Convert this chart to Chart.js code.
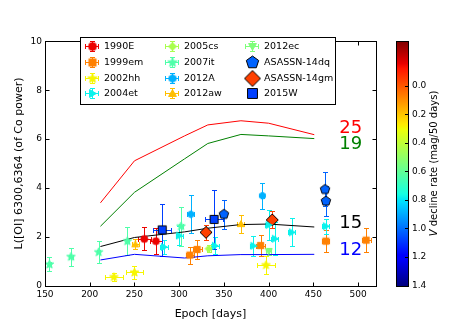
<!DOCTYPE html>
<html>
<head>
<meta charset="utf-8">
<script src="https://cdn.jsdelivr.net/npm/chart.js@4.4.1/dist/chart.umd.min.js"></script>
<style>
  html, body { margin: 0; padding: 0; background: #fff; }
  canvas { display: block; }
</style>
</head>
<body>
<canvas id="oiChart" width="458" height="327"></canvas>
<script>
// axis ticks
const xTicks = [150, 200, 250, 300, 350, 400, 450, 500];
const yTicks = [0, 2, 4, 6, 8, 10];
const cbTicks = [0.0, 0.2, 0.4, 0.6, 0.8, 1.0, 1.2, 1.4];
const cbMin = -0.31;
const cbMax = 1.4;

// model tracks (progenitor mass in Msun)
const modelEpochs = [212, 250, 306, 332, 369, 400, 451];
const model12 = [1.05, 1.28, 1.13, 1.22, 1.27, 1.27, 1.28];
const model15 = [1.60, 1.97, 2.20, 2.35, 2.50, 2.52, 2.40];
const model19 = [2.43, 3.82, 5.19, 5.82, 6.19, 6.13, 6.02];
const model25 = [3.39, 5.11, 6.13, 6.58, 6.75, 6.65, 6.18];
const modelMasses = ["12", "15", "19", "25"];

// observed SNe, rows of [epoch, L, epoch error, L error]
const sn1990E = [[261, 1.91, 7, 0.47], [274, 1.82, 7, 0.53]];
const sn1999em = [[312, 1.25, 4, 0.35], [320, 1.48, 5, 0.40], [391, 1.64, 5, 0.43], [464, 1.82, 4, 0.45], [509, 1.86, 5, 0.50]];
const sn2002hh = [[227, 0.35, 10, 0.18], [250, 0.54, 10, 0.27], [397, 0.84, 10, 0.38]];
const sn2004et = [[283, 1.58, 4, 0.30], [300, 2.05, 4, 0.40], [340, 1.63, 4, 0.35], [383, 1.63, 4, 0.40], [400, 2.48, 4, 0.62], [407, 1.92, 4, 0.67], [426, 2.18, 4, 0.57], [464, 2.43, 4, 0.30]];
const sn2005cs = [[333, 1.51, 2, 0.15]];
const sn2007it = [[155, 0.87, 2, 0.29], [179, 1.18, 2, 0.38], [210, 1.37, 2, 0.44], [242, 1.82, 2, 0.58], [302, 2.43, 2, 0.80]];
const sn2012A = [[313, 2.92, 4, 0.78], [393, 3.68, 2, 0.54]];
const sn2012aw = [[251, 1.69, 4, 0.20], [369, 2.52, 4, 0.38]];
const sn2012ec = [[400, 1.41, 3, 0.15]];
const snASASSN14dq = [[350, 2.92, 0, 0.60], [463, 3.94, 0, 0.70], [464, 3.46, 0, 0.60]];
const snASASSN14gm = [[330, 2.18, 0, 0.30], [404, 2.69, 0, 0.35]];
const sn2015W = [[281, 2.28, 10, 1.05], [339, 2.71, 10, 1.20]];

const snNames = ["1990E", "1999em", "2002hh", "2004et", "2005cs", "2007it", "2012A", "2012aw", "2012ec", "ASASSN-14dq", "ASASSN-14gm", "2015W"];
const snData = [sn1990E, sn1999em, sn2002hh, sn2004et, sn2005cs, sn2007it, sn2012A, sn2012aw, sn2012ec, snASASSN14dq, snASASSN14gm, sn2015W];
// V-band decline rate (mag / 50 days), sets the colour
const snDecline = [-0.15, 0.075, 0.29, 0.78, 0.45, 0.64, 0.89, 0.19, 0.54, 1.02, -0.04, 1.08];

// styles
const FONT = "'DejaVu Sans', sans-serif";
const snShapes = ["circle", "square", "star", "triRight", "diamond", "star", "hexagon", "triUp", "triDown", "pentagon", "diamond", "square"];
const snSizes = [7, 7, 9, 8, 7, 9, 7, 8, 8, 10, 12, 9];
const legendSizes = [8, 8, 10, 9, 8, 10, 8, 9, 9, 13, 16, 11];
const modelColors = ["#0000ff", "#000000", "#008000", "#ff0000"];
const modelLabelLum = [1.44, 2.55, 5.80, 6.45];
const modelLabelEpoch = 479;

const jetR = [[0, 0], [0.35, 0], [0.66, 1], [0.89, 1], [1, 0.5]];
const jetG = [[0, 0], [0.125, 0], [0.375, 1], [0.64, 1], [0.91, 0], [1, 0]];
const jetB = [[0, 0.5], [0.11, 1], [0.34, 1], [0.65, 0], [1, 0]];

function interp(pts, t) {
  t = Math.min(1, Math.max(0, t));
  for (let i = 1; i < pts.length; i++) {
    if (t <= pts[i][0]) {
      const [x0, y0] = pts[i - 1];
      const [x1, y1] = pts[i];
      return y0 + (y1 - y0) * (t - x0) / (x1 - x0);
    }
  }
  return pts[pts.length - 1][1];
}

function rateColor(v) {
  const t = (cbMax - v) / (cbMax - cbMin);
  const c = (p) => Math.round(255 * interp(p, t));
  return `rgb(${c(jetR)}, ${c(jetG)}, ${c(jetB)})`;
}

function tracePolygon(ctx, cx, cy, r, n, rot) {
  for (let k = 0; k < n; k++) {
    const a = rot + k * 2 * Math.PI / n;
    const px = cx + r * Math.cos(a);
    const py = cy + r * Math.sin(a);
    if (k === 0) ctx.moveTo(px, py); else ctx.lineTo(px, py);
  }
  ctx.closePath();
}

function makeMarker(shape, size, fill, edge) {
  const c = document.createElement("canvas");
  c.width = c.height = Math.ceil(size) + 4;
  const ctx = c.getContext("2d");
  const cx = c.width / 2;
  const cy = c.height / 2;
  const r = size / 2;
  ctx.beginPath();
  if (shape === "circle") ctx.arc(cx, cy, r, 0, Math.PI * 2);
  else if (shape === "square") ctx.rect(cx - r * 0.9, cy - r * 0.9, r * 1.8, r * 1.8);
  else if (shape === "diamond") tracePolygon(ctx, cx, cy, r, 4, -Math.PI / 2);
  else if (shape === "pentagon") tracePolygon(ctx, cx, cy, r, 5, -Math.PI / 2);
  else if (shape === "hexagon") tracePolygon(ctx, cx, cy, r, 6, -Math.PI / 2);
  else if (shape === "triUp") tracePolygon(ctx, cx, cy + r * 0.15, r, 3, -Math.PI / 2);
  else if (shape === "triDown") tracePolygon(ctx, cx, cy - r * 0.15, r, 3, Math.PI / 2);
  else if (shape === "triRight") tracePolygon(ctx, cx - r * 0.15, cy, r, 3, 0);
  else if (shape === "star") {
    for (let k = 0; k < 10; k++) {
      const a = -Math.PI / 2 + k * Math.PI / 5;
      const rr = k % 2 === 0 ? r : r * 0.42;
      const px = cx + rr * Math.cos(a);
      const py = cy + rr * Math.sin(a);
      if (k === 0) ctx.moveTo(px, py); else ctx.lineTo(px, py);
    }
    ctx.closePath();
  }
  ctx.fillStyle = fill;
  ctx.fill();
  ctx.lineWidth = 1;
  ctx.strokeStyle = edge;
  ctx.stroke();
  return c;
}

const snColors = snDecline.map(rateColor);
const snEdgeColors = snColors.map((c, i) => (i >= 9 ? "#000000" : c));
const plotMarkers = snShapes.map((s, i) => makeMarker(s, snSizes[i], snColors[i], snEdgeColors[i]));
const legendMarkers = snShapes.map((s, i) => makeMarker(s, legendSizes[i], snColors[i], snEdgeColors[i]));

function line(ctx, x0, y0, x1, y1) {
  ctx.beginPath();
  ctx.moveTo(x0, y0);
  ctx.lineTo(x1, y1);
  ctx.stroke();
}

const snap = (v) => Math.round(v) + 0.5;

const errorBarPlugin = {
  id: "errorBars",
  beforeDatasetsDraw(chart) {
    const { ctx, chartArea, scales: { x, y } } = chart;
    const cap = 2.5;
    ctx.save();
    ctx.beginPath();
    ctx.rect(chartArea.left, chartArea.top, chartArea.right - chartArea.left, chartArea.bottom - chartArea.top);
    ctx.clip();
    ctx.lineWidth = 1;
    snData.forEach((rows, i) => {
      ctx.strokeStyle = snColors[i];
      rows.forEach(([ex, ey, dx, dy]) => {
        const px = snap(x.getPixelForValue(ex));
        const py = snap(y.getPixelForValue(ey));
        if (dy) {
          const y0 = snap(y.getPixelForValue(ey - dy));
          const y1 = snap(y.getPixelForValue(ey + dy));
          line(ctx, px, y0, px, y1);
          line(ctx, px - cap, y0, px + cap, y0);
          line(ctx, px - cap, y1, px + cap, y1);
        }
        if (dx) {
          const x0 = snap(x.getPixelForValue(ex - dx));
          const x1 = snap(x.getPixelForValue(ex + dx));
          line(ctx, x0, py, x1, py);
          line(ctx, x0, py - cap, x0, py + cap);
          line(ctx, x1, py - cap, x1, py + cap);
        }
      });
    });
    ctx.restore();
  }
};

const framePlugin = {
  id: "frame",
  afterDatasetsDraw(chart) {
    const { ctx, chartArea, scales: { x, y } } = chart;
    const left = snap(chartArea.left);
    const right = snap(chartArea.right);
    const top = snap(chartArea.top);
    const bottom = snap(chartArea.bottom);
    ctx.save();
    ctx.strokeStyle = "#000";
    ctx.lineWidth = 1;
    ctx.strokeRect(left, top, right - left, bottom - top);
    xTicks.forEach((v) => {
      const px = snap(x.getPixelForValue(v));
      line(ctx, px, bottom, px, bottom - 4);
      line(ctx, px, top, px, top + 4);
    });
    yTicks.forEach((v) => {
      const py = snap(y.getPixelForValue(v));
      line(ctx, left, py, left + 4, py);
      line(ctx, right, py, right - 4, py);
    });

    // model mass labels
    ctx.font = `18px ${FONT}`;
    ctx.textAlign = "left";
    ctx.textBaseline = "middle";
    modelMasses.forEach((m, i) => {
      ctx.fillStyle = modelColors[i];
      ctx.fillText(m, x.getPixelForValue(modelLabelEpoch), y.getPixelForValue(modelLabelLum[i]));
    });

    // axis titles
    ctx.fillStyle = "#000";
    ctx.font = `11px ${FONT}`;
    ctx.textAlign = "center";
    ctx.fillText("Epoch [days]", (chartArea.left + chartArea.right) / 2, 314);
    ctx.translate(19, (chartArea.top + chartArea.bottom) / 2);
    ctx.rotate(-Math.PI / 2);
    ctx.fillText("L([OI] 6300,6364 (of Co power)", 0, 0);
    ctx.restore();
  }
};

const legendPlugin = {
  id: "innerLegend",
  afterDraw(chart) {
    const { ctx } = chart;
    const markerX = [92, 172, 252];
    const textX = [104, 184, 264];
    const rowY = [46, 62, 78, 93];
    ctx.save();
    ctx.fillStyle = "#fff";
    ctx.strokeStyle = "#000";
    ctx.lineWidth = 1;
    ctx.fillRect(80.5, 37.5, 255, 67);
    ctx.strokeRect(80.5, 37.5, 255, 67);
    ctx.font = `9.5px ${FONT}`;
    ctx.textBaseline = "middle";
    ctx.textAlign = "left";
    snNames.forEach((name, i) => {
      const col = Math.floor(i / 4);
      const mx = markerX[col];
      const my = rowY[i % 4];
      if (i < 9) {
        ctx.strokeStyle = snColors[i];
        line(ctx, mx - 7, my + 0.5, mx + 7, my + 0.5);
        line(ctx, mx - 6.5, my - 2, mx - 6.5, my + 3);
        line(ctx, mx + 6.5, my - 2, mx + 6.5, my + 3);
        line(ctx, mx + 0.5, my - 4.5, mx + 0.5, my + 5.5);
        line(ctx, mx - 2, my - 4.5, mx + 3, my - 4.5);
        line(ctx, mx - 2, my + 5.5, mx + 3, my + 5.5);
      }
      const img = legendMarkers[i];
      ctx.drawImage(img, mx + 0.5 - img.width / 2, my + 0.5 - img.height / 2);
      ctx.fillStyle = "#000";
      ctx.fillText(name, textX[col], my + 1);
    });
    ctx.restore();
  }
};

const colorbarPlugin = {
  id: "colorbar",
  afterDraw(chart) {
    const { ctx } = chart;
    const cb = chart.scales.cb;
    const x0 = 396;
    const x1 = 409;
    ctx.save();
    for (let py = Math.round(cb.top); py < Math.round(cb.bottom); py++) {
      ctx.fillStyle = rateColor(cb.getValueForPixel(py + 0.5));
      ctx.fillRect(x0, py, x1 - x0, 1);
    }
    ctx.strokeStyle = "#000";
    ctx.lineWidth = 1;
    ctx.strokeRect(x0 + 0.5, snap(cb.top), x1 - x0 - 1, Math.round(cb.bottom) - Math.round(cb.top));
    cbTicks.forEach((v) => {
      const py = snap(cb.getPixelForValue(v));
      line(ctx, x1 - 0.5, py, x1 - 4, py);
    });
    ctx.fillStyle = "#000";
    ctx.font = `10px ${FONT}`;
    ctx.textBaseline = "middle";
    ctx.translate(434, (cb.top + cb.bottom) / 2);
    ctx.rotate(-Math.PI / 2);
    const rest = " decline rate (mag/50 days)";
    ctx.font = `italic 10px ${FONT}`;
    const wV = ctx.measureText("V").width;
    ctx.font = `10px ${FONT}`;
    const wRest = ctx.measureText(rest).width;
    const start = -(wV + wRest) / 2;
    ctx.textAlign = "left";
    ctx.font = `italic 10px ${FONT}`;
    ctx.fillText("V", start, 0);
    ctx.font = `10px ${FONT}`;
    ctx.fillText(rest, start + wV, 0);
    ctx.restore();
  }
};

const tickFont = { family: FONT, size: 9 };

const modelDatasets = [model12, model15, model19, model25].map((vals, i) => ({
  label: `${modelMasses[i]} Msun`,
  type: "line",
  data: modelEpochs.map((e, k) => ({ x: e, y: vals[k] })),
  borderColor: modelColors[i],
  borderWidth: 1,
  pointRadius: 0,
  fill: false,
  tension: 0,
  order: 1
}));

const snDatasets = snNames.map((name, i) => ({
  label: name,
  type: "scatter",
  data: snData[i].map(([x, y]) => ({ x, y })),
  pointStyle: plotMarkers[i],
  pointRadius: 4,
  backgroundColor: snColors[i],
  borderColor: snEdgeColors[i],
  order: 0
}));

new Chart(document.getElementById("oiChart"), {
  type: "scatter",
  data: { datasets: [...snDatasets, ...modelDatasets] },
  options: {
    responsive: false,
    animation: false,
    devicePixelRatio: 1,
    layout: { padding: { top: 32.5, left: 0, right: 0, bottom: 0 } },
    plugins: {
      legend: { display: false },
      tooltip: { enabled: false }
    },
    scales: {
      x: {
        type: "linear",
        min: 150,
        max: 520,
        grid: { display: false, drawTicks: false },
        border: { display: false },
        afterBuildTicks: (s) => { s.ticks = xTicks.map((v) => ({ value: v })); },
        afterFit: (s) => { s.height = 33.5; },
        ticks: { font: tickFont, color: "#000", padding: 4, maxRotation: 0, autoSkip: false }
      },
      y: {
        type: "linear",
        min: 0,
        max: 10,
        grid: { display: false, drawTicks: false },
        border: { display: false },
        afterBuildTicks: (s) => { s.ticks = yTicks.map((v) => ({ value: v })); },
        afterFit: (s) => { s.width = 45; },
        ticks: { font: tickFont, color: "#000", padding: 3, autoSkip: false }
      },
      cb: {
        type: "linear",
        axis: "y",
        position: "right",
        min: cbMin,
        max: cbMax,
        reverse: true,
        grid: { display: false, drawTicks: false },
        border: { display: false },
        afterBuildTicks: (s) => { s.ticks = cbTicks.map((v) => ({ value: v })); },
        afterFit: (s) => { s.width = 82; },
        ticks: {
          font: tickFont,
          color: "#000",
          padding: 36,
          autoSkip: false,
          callback: (v) => Number(v).toFixed(1)
        }
      }
    }
  },
  plugins: [errorBarPlugin, framePlugin, legendPlugin, colorbarPlugin]
});
</script>
</body>
</html>
